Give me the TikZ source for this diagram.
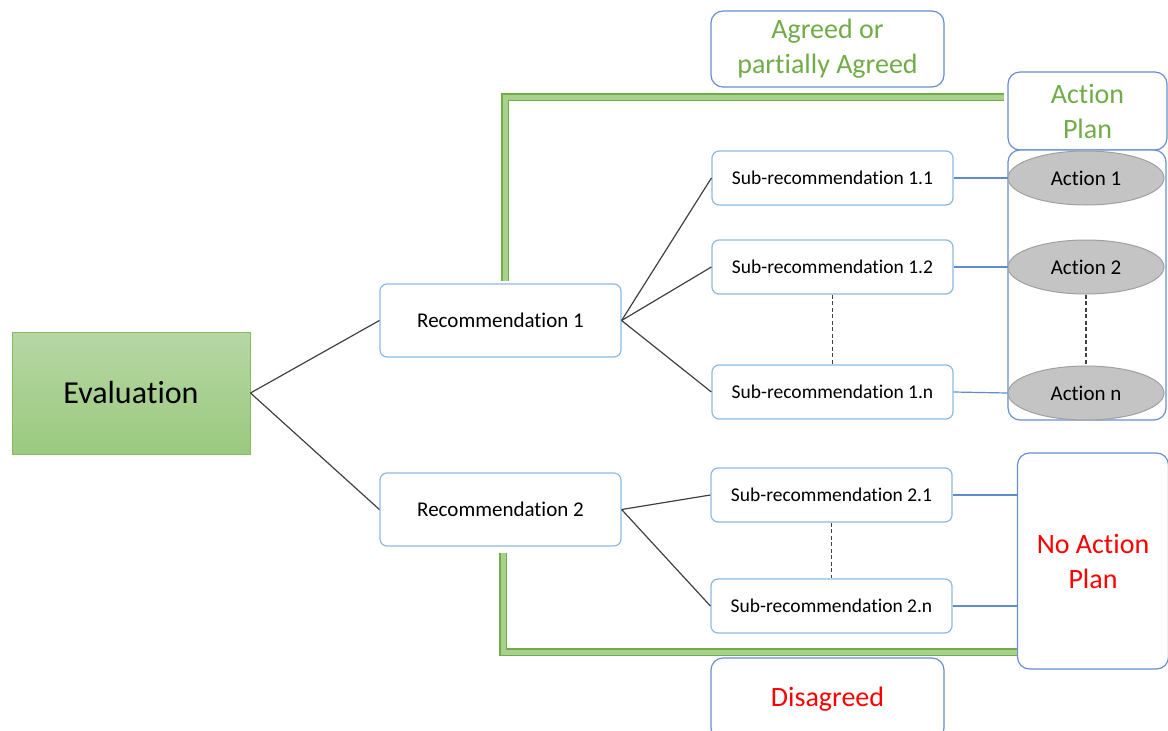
\documentclass[tikz,border=0pt]{standalone}
\usepackage{fontspec}
\setmainfont{Carlito}[Ligatures=NoCommon]
\usetikzlibrary{shapes.geometric}

\definecolor{boxblue}{RGB}{140,185,228}
\definecolor{darkblue}{RGB}{105,142,210}
\definecolor{linkblue}{RGB}{95,140,208}
\definecolor{evaltop}{RGB}{182,215,164}
\definecolor{evalbot}{RGB}{155,201,127}
\definecolor{evaledge}{RGB}{130,190,95}
\definecolor{agreegreen}{RGB}{112,173,71}
\definecolor{agreefill}{RGB}{169,209,142}
\definecolor{actgray}{RGB}{196,196,196}
\definecolor{actedge}{RGB}{160,160,160}

\begin{document}
\begin{tikzpicture}[x=1pt,y=-1pt,
    evalbox/.style={
% The shape:
rectangle,
% The size:
minimum width=238pt, minimum height=122pt,
% The border:
draw=evaledge, line width=1pt,
top color=evaltop, bottom color=evalbot,
font=\fontsize{32}{36}\selectfont,
},
    recbox/.style={
% The shape:
rectangle, rounded corners=7pt,
% The size:
minimum width=241pt, minimum height=#1,
% The border:
draw=boxblue, line width=1.2pt, fill=white,
font=\fontsize{19.5}{22}\selectfont,
},
    planbox/.style={
% The shape:
rectangle, rounded corners=12pt,
% The border:
draw=darkblue, line width=1.2pt, fill=white,
align=center, font=\fontsize{28}{35}\selectfont,
},
    action/.style={
% The shape:
ellipse,
% The size:
minimum width=156pt, minimum height=54pt,
% The border:
draw=actedge, line width=1pt, fill=actgray,
font=\fontsize{21}{24}\selectfont,
},
    link/.style={draw=black!75, line width=1.2pt},
    bluelink/.style={draw=linkblue, line width=1.2pt},
    dots/.style={draw=black!75, line width=1.2pt, dash pattern=on 4pt off 2.5pt},
    green elbow/.style={draw=agreegreen, double=agreefill, double distance=5pt, line width=1.2pt},
]
  \useasboundingbox (0,0) rectangle (1168,731);

  \node[evalbox] (E) at (131,393) {Evaluation};
  \node[recbox=73pt, font=\fontsize{21}{24}\selectfont] (R1) at (500.5,320.5) {Recommendation 1};
  \node[recbox=73pt, font=\fontsize{21}{24}\selectfont] (R2) at (500.5,509.5) {Recommendation 2};
  \node[recbox=54pt] (S11) at (832.5,178) {Sub-recommendation 1.1};
  \node[recbox=54pt] (S12) at (832.5,267) {Sub-recommendation 1.2};
  \node[recbox=54pt] (S1n) at (832.5,392) {Sub-recommendation 1.n};
  \node[recbox=54pt] (S21) at (831.5,495) {Sub-recommendation 2.1};
  \node[recbox=54pt] (S2n) at (831.5,606) {Sub-recommendation 2.n};

  \node[planbox, text=agreegreen, minimum width=233pt, minimum height=76pt] (AG) at (827.5,49) {Agreed or\\partially Agreed};
  \node[planbox, text=agreegreen, minimum width=159pt, minimum height=78pt] (AP) at (1087.5,111) {Action\\Plan};
  \node[planbox, minimum width=158pt, minimum height=270pt] (C) at (1087,285) {};
  \node[action] (A1) at (1086,178) {Action 1};
  \node[action] (A2) at (1086,267) {Action 2};
  \node[action] (An) at (1086,393) {Action n};
  \node[planbox, text=red, minimum width=151pt, minimum height=216pt] (NA) at (1093,561) {No Action\\Plan};
  \node[planbox, text=red, minimum width=233pt, minimum height=82pt] (DG) at (827.5,699) {Disagreed};

  % tree
  \draw[link] (E.east) -- (R1.west);
  \draw[link] (E.east) -- (R2.west);
  \foreach \s in {S11,S12,S1n} \draw[link] (R1.east) -- (\s.west);
  \foreach \s in {S21,S2n} \draw[link] (R2.east) -- (\s.west);
  \draw[dots] (S12.south) -- (S1n.north);
  \draw[dots] (S21.south) -- (S2n.north);
  \draw[dots] (A2.south) -- (An.north);

  % to actions
  \draw[bluelink] (S11.east) -- (A1.west);
  \draw[bluelink] (S12.east) -- (A2.west);
  \draw[bluelink] (S1n.east) -- (An.west);
  \draw[bluelink] (S21.east) -- (S21.east -| NA.west);
  \draw[bluelink] (S2n.east) -- (S2n.east -| NA.west);

  % agreed / disagreed
  \coordinate (g1) at ([xshift=4.5pt,yshift=2pt]R1.north);
  \coordinate (g2) at ([xshift=2.5pt,yshift=-6pt]R2.south);
  \draw[green elbow] (g1) |- ([xshift=-3pt,yshift=14pt]AP.west);
  \draw[green elbow] (g2) |- ([yshift=-91pt]NA.west);
\end{tikzpicture}
\end{document}
